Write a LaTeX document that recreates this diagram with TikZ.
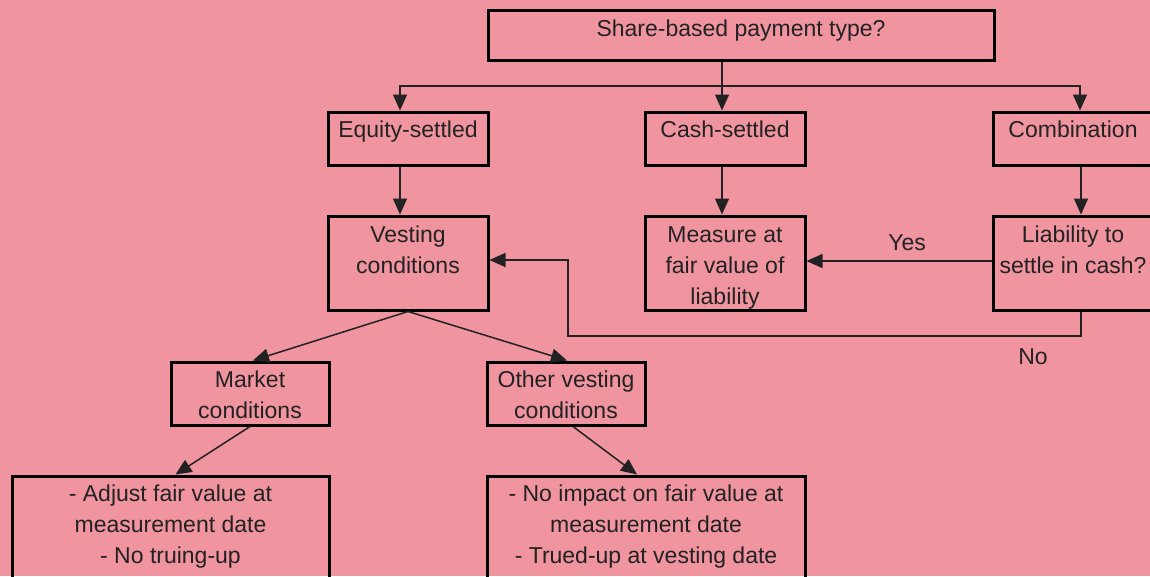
\documentclass[tikz,border=0pt]{standalone}
\usepackage{fontspec}
\setmainfont{Liberation Sans}
\usetikzlibrary{arrows.meta,calc}
\definecolor{bg}{RGB}{240,148,160}
\definecolor{ink}{RGB}{34,34,34}
\begin{document}
\begin{tikzpicture}[x=1pt,y=-1pt,
  box/.style={draw=black,line width=3pt,inner sep=0pt},
  txt/.style={font=\fontsize{23}{31}\selectfont,text=ink,align=center,inner sep=0pt,anchor=north},
  lbl/.style={font=\fontsize{23}{31}\selectfont,text=ink,inner sep=0pt},
  conn/.style={draw=ink,line width=1.5pt},
  arr/.style={conn,-{Triangle[length=16pt,width=14pt]}}]
\fill[bg] (0,0) rectangle (1150,576);
\clip (0,0) rectangle (1150,576);
% boxes
\node[box,minimum width=506pt,minimum height=50pt] (top) at (741,35) {};
\node[box,minimum width=160pt,minimum height=53pt] (eq) at (408,138.5) {};
\node[box,minimum width=160pt,minimum height=53pt] (cash) at (725,138.5) {};
\node[box,minimum width=160pt,minimum height=53pt] (comb) at (1073,138.5) {};
\node[box,minimum width=160pt,minimum height=94pt] (vest) at (408,263) {};
\node[box,minimum width=160pt,minimum height=94pt] (meas) at (725,263) {};
\node[box,minimum width=160pt,minimum height=94pt] (liab) at (1073,263) {};
\node[box,minimum width=158pt,minimum height=63pt] (mkt) at (250,393.5) {};
\node[box,minimum width=158pt,minimum height=63pt] (oth) at (566,393.5) {};
\node[box,minimum width=317pt,minimum height=114pt] (adj) at (170.5,533) {};
\node[box,minimum width=318pt,minimum height=114pt] (noimp) at (646,533) {};
% texts
\node[txt] (topt) at ([yshift=-6pt]top.north) {\strut Share-based payment type?};
\node[txt] (eqt) at ([yshift=-5pt]eq.north) {\strut Equity-settled};
\node[txt] (casht) at ([yshift=-5pt]cash.north) {\strut Cash-settled};
\node[txt] (combt) at ([yshift=-5pt]comb.north) {\strut Combination};
\node[txt] (vestt) at ([yshift=-6pt]vest.north) {\strut Vesting\\conditions};
\node[txt] (meast) at ([yshift=-6pt]meas.north) {\strut Measure at\\fair value of\\liability};
\node[txt] (liabt) at ([yshift=-6pt]liab.north) {\strut Liability to\\settle in cash?};
\node[txt] (mktt) at ([yshift=-5pt]mkt.north) {\strut Market\\conditions};
\node[txt] (otht) at ([yshift=-5pt]oth.north) {\strut Other vesting\\conditions};
\node[txt] (adjt) at ([yshift=-5pt]adj.north) {\strut - Adjust fair value at\\measurement date\\- No truing-up};
\node[txt] (noimpt) at ([yshift=-5pt]noimp.north) {\strut - No impact on fair value at\\measurement date\\- Trued-up at vesting date};
% connectors
\coordinate (j) at (722,86);
\coordinate (nb) at (568,336);
\draw[conn] (top.south -| j) -- (j);
\draw[arr] (j) -| ([xshift=-8pt]eq.north);
\draw[arr] (j) -- (j |- cash.north);
\draw[arr] (j) -| ([xshift=7pt]comb.north);
\draw[arr] ([xshift=-8pt]eq.south) -- ([xshift=-8pt]vest.north);
\draw[arr] (j |- cash.south) -- (j |- meas.north);
\draw[arr] ([xshift=8pt]comb.south) -- ([xshift=8pt]liab.north);
\draw[arr] ([yshift=2pt]liab.west) -- ([yshift=2pt]meas.east);
\draw[arr] ([xshift=8pt]liab.south) |- (nb) |- ([yshift=3pt]vest.east);
\draw[arr] (vest.south) -- ([xshift=3pt]mkt.north);
\draw[arr] (vest.south) -- ([xshift=1pt]oth.north);
\draw[arr] (mkt.south) -- ([xshift=5pt]adj.north);
\draw[arr] ([xshift=7pt]oth.south) -- ([xshift=-9pt]noimp.north);
\node[lbl] (yes) at (907,243) {Yes};
\node[lbl] (no) at (1033,357) {No};
\end{tikzpicture}
\end{document}
